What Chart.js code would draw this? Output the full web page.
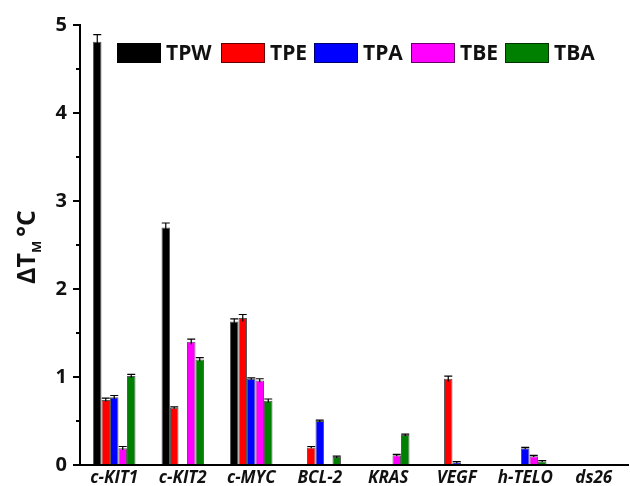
<!DOCTYPE html>
<html><head><meta charset="utf-8">
<script src="https://cdn.jsdelivr.net/npm/chart.js@4/dist/chart.umd.min.js"></script>
<style>html,body{margin:0;padding:0;background:#fff;overflow:hidden}#wrap{width:630px;height:486px}</style>
</head><body><div id="wrap"><canvas id="c" width="630" height="486"></canvas></div>
<script>
const categories = ['c-KIT1','c-KIT2','c-MYC','BCL-2','KRAS','VEGF','h-TELO','ds26'];
const seriesNames = ['TPW','TPE','TPA','TBE','TBA'];
const seriesColors = ['#000000','#ff0000','#0000ff','#ff00ff','#008000'];
const TPW = [4.81, 2.70, 1.63, 0, 0, 0, 0, 0];
const TPE = [0.74, 0.65, 1.67, 0.20, 0, 0.98, 0, 0];
const TPA = [0.77, 0, 0.98, 0.50, 0, 0.03, 0.19, 0];
const TBE = [0.19, 1.40, 0.96, 0, 0.11, 0, 0.10, 0];
const TBA = [1.01, 1.20, 0.73, 0.09, 0.34, 0, 0.04, 0];
const TPW_err = [0.08, 0.05, 0.03, 0, 0, 0, 0, 0];
const TPE_err = [0.02, 0.01, 0.04, 0.01, 0, 0.03, 0, 0];
const TPA_err = [0.02, 0, 0.01, 0.01, 0, 0.01, 0.01, 0];
const TBE_err = [0.02, 0.03, 0.02, 0, 0.01, 0, 0.01, 0];
const TBA_err = [0.02, 0.02, 0.02, 0.01, 0.01, 0, 0.01, 0];
const yTicks = [0,1,2,3,4,5];
const yMinorTicks = [0.5,1.5,2.5,3.5,4.5];

const values = [TPW,TPE,TPA,TBE,TBA];
const errors = [TPW_err,TPE_err,TPA_err,TBE_err,TBA_err];

const errorBars = {
  id:'errorBars',
  afterDatasetsDraw(chart){
    const ctx = chart.ctx, y = chart.scales.y;
    ctx.save();
    ctx.strokeStyle = '#000'; ctx.lineWidth = 1.2;
    chart.data.datasets.forEach((ds, di) => {
      const meta = chart.getDatasetMeta(di);
      meta.data.forEach((bar, i) => {
        const e = errors[di][i];
        if (!e) return;
        const v = ds.data[i];
        const yt = y.getPixelForValue(v + e), yb = y.getPixelForValue(v - e);
        ctx.beginPath();
        ctx.moveTo(bar.x, yb); ctx.lineTo(bar.x, yt);
        ctx.moveTo(bar.x - 4, yt); ctx.lineTo(bar.x + 4, yt);
        ctx.stroke();
      });
    });
    ctx.restore();
  }
};

const extras = {
  id:'extras',
  afterDraw(chart){
    const ctx = chart.ctx, y = chart.scales.y, left = chart.chartArea.left;
    ctx.save();
    ctx.strokeStyle = '#000'; ctx.lineWidth = 2;
    yMinorTicks.forEach(v => {
      const p = Math.round(y.getPixelForValue(v));
      ctx.beginPath(); ctx.moveTo(left - 4, p); ctx.lineTo(left, p); ctx.stroke();
    });
    ctx.fillStyle = '#111';
    ctx.translate(35, 284);
    ctx.rotate(-Math.PI/2);
    ctx.textBaseline = 'alphabetic'; ctx.textAlign = 'left';
    ctx.font = 'bold 25px "Open Sans"';
    let x = 0;
    ctx.fillText('ΔT', x, 0); x += ctx.measureText('ΔT').width;
    ctx.font = 'bold 13px "Open Sans"';
    ctx.fillText('M', x, 6); x += ctx.measureText('M').width + 4;
    ctx.font = 'bold 25px "Open Sans"';
    ctx.fillText('°C', x, 0);
    ctx.restore();
    ctx.save();
    ctx.font = 'bold 21px "Open Sans"';
    ctx.textBaseline = 'middle';
    const boxX = [117, 221, 314, 411, 505];
    seriesNames.forEach((n, i) => {
      ctx.fillStyle = seriesColors[i];
      ctx.fillRect(boxX[i], 43, 44, 20);
      ctx.strokeStyle = 'rgba(0,0,0,0.6)'; ctx.lineWidth = 1;
      ctx.strokeRect(boxX[i] + 0.5, 43.5, 43, 19);
      ctx.fillStyle = '#111';
      ctx.fillText(n, boxX[i] + 49, 54);
    });
    ctx.restore();
  }
};

new Chart(document.getElementById('c'), {
  type:'bar',
  data:{
    labels: categories,
    datasets: seriesNames.map((n, i) => ({
      label: n, data: values[i],
      backgroundColor: seriesColors[i],
      borderColor: 'rgba(0,0,0,0.65)', borderWidth: 1,
      barPercentage: 1.0, categoryPercentage: 0.62
    }))
  },
  options:{
    responsive:false, animation:false,
    layout:{padding:{left:0, right:2, top:25, bottom:0}},
    plugins:{legend:{display:false}, tooltip:{enabled:false}},
    scales:{
      x:{
        grid:{display:false, tickLength:0},
        border:{display:true, color:'#000', width:2},
        ticks:{color:'#111', padding:5, maxRotation:0, font:{family:'"Open Sans"', size:17, weight:'bold', style:'italic', lineHeight:1}},
        afterFit(s){ s.height = 21; }
      },
      y:{
        min:0, max:5,
        afterBuildTicks(s){ s.ticks = yTicks.map(v => ({value:v})); },
        grid:{drawOnChartArea:false, drawTicks:true, tickLength:7, color:'#000', lineWidth:2},
        border:{display:true, color:'#000', width:2},
        ticks:{color:'#111', padding:6, font:{family:'"Open Sans"', size:20, weight:'bold'}},
        afterFit(s){ s.width = 80; }
      }
    }
  },
  plugins:[errorBars, extras]
});
</script></body></html>
